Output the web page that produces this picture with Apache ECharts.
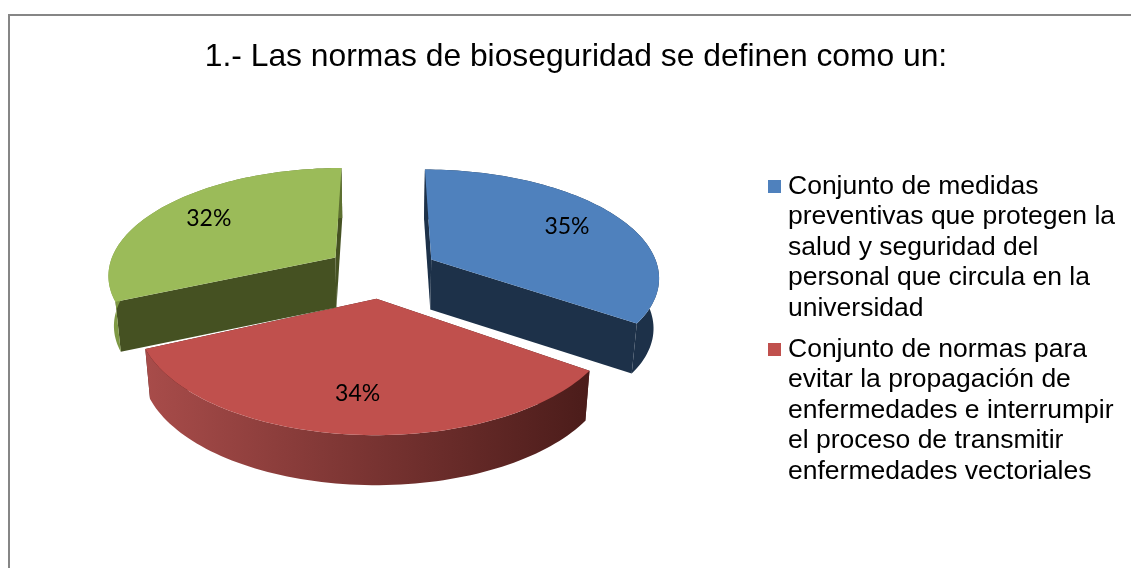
<!DOCTYPE html>
<html><head><meta charset="utf-8">
<style>html,body{margin:0;padding:0;background:#fff}#c{width:1131px;height:568px}</style>
<script src="https://cdn.jsdelivr.net/npm/echarts@6/dist/echarts.min.js"></script>
</head><body><div id="c"></div>
<script>
const titleText = '1.- Las normas de bioseguridad se definen como un:';
const sliceValues = [35, 34, 32];
const sliceLabels = ['35%', '34%', '32%'];
const legendLines = [
  ['Conjunto de medidas', 'preventivas que protegen la', 'salud y seguridad del', 'personal que circula en la', 'universidad'],
  ['Conjunto de normas para', 'evitar la propagación de', 'enfermedades e interrumpir', 'el proceso de transmitir', 'enfermedades vectoriales']
];
const sliceNames = [legendLines[0].join(' '), legendLines[1].join(' '), 'Otro'];
const topColors = ['#4f81bd', '#c0504d', '#9bbb59'];
const cutColors = ['#1d3149', '#4b1c1a', '#455122'];
const rimColors = [['#1d3149', '#1d3149'], ['#a84c4a', '#4b1c1a'], ['#7f9a45', '#5d7030']];

// projection of the tilted disc
const cx = 382, cy = 271.5, R = 228, B = 106.7, A = 0.15, EXPL = 0.248, DEPTH = 50, SHRINK = 0.98;
const LABEL_R = 0.73;
const total = sliceValues.reduce((a, b) => a + b, 0);

function project(U, V) {
  const k = 1 - A * V;
  return [cx + R * U / k, cy + B * V / k];
}
function below(p) { return [cx + (p[0] - cx) * SHRINK, p[1] + DEPTH]; }

function renderSlice(idx) {
  return function () {
    let before = 0;
    for (let i = 0; i < idx; i++) before += sliceValues[i];
    const a0 = before / total * 2 * Math.PI;
    const a1 = (before + sliceValues[idx]) / total * 2 * Math.PI;
    const mid = (a0 + a1) / 2;
    const ex = EXPL * Math.sin(mid), ey = -EXPL * Math.cos(mid);
    const pt = (a, r) => project(ex + r * Math.sin(a), ey - r * Math.cos(a));
    const apex = pt(0, 0);
    const arc = [];
    const N = 80;
    for (let i = 0; i <= N; i++) arc.push(pt(a0 + (a1 - a0) * i / N, 1));
    const top = [apex].concat(arc);
    const xs = arc.map(p => p[0]);
    const rimFill = {
      type: 'linear', global: true,
      x: Math.min.apply(null, xs), y: 0, x2: Math.max.apply(null, xs), y2: 0,
      colorStops: [{ offset: 0, color: rimColors[idx][0] }, { offset: 1, color: rimColors[idx][1] }]
    };
    const face = (p) => [apex, p, below(p), below(apex)];
    const rim = arc.concat(arc.slice().reverse().map(below));
    const lab = pt(mid, LABEL_R);
    return {
      type: 'group',
      children: [
        { type: 'polygon', shape: { points: face(arc[0]) }, style: { fill: cutColors[idx] } },
        { type: 'polygon', shape: { points: face(arc[N]) }, style: { fill: cutColors[idx] } },
        { type: 'polygon', shape: { points: rim }, style: { fill: rimFill } },
        { type: 'polygon', shape: { points: top }, style: { fill: topColors[idx] } },
        { type: 'text', x: lab[0], y: lab[1], style: {
            text: sliceLabels[idx], fill: '#000', font: '23px Lato, "Open Sans", sans-serif',
            align: 'center', verticalAlign: 'middle' } }
      ]
    };
  };
}

const series = sliceValues.map((v, i) => ({
  type: 'custom', name: sliceNames[i], coordinateSystem: 'none',
  data: [[v]], itemStyle: { color: topColors[i] }, renderItem: renderSlice(i),
  silent: true, animation: false
}));

const chart = echarts.init(document.getElementById('c'), null, { renderer: 'canvas' });
chart.setOption({
  animation: false,
  backgroundColor: '#fff',
  title: {
    text: titleText, left: 576, top: 36, textAlign: 'center',
    padding: [5, 10, 5, 0],
    textStyle: { fontFamily: '"Liberation Sans", Arial, sans-serif', fontSize: 31.8, fontWeight: 'normal', color: '#000' }
  },
  legend: {
    left: 768, top: 173, orient: 'vertical', selectedMode: false, itemGap: 14,
    itemWidth: 0, itemHeight: 0, icon: 'none', padding: 0,
    data: [sliceNames[0], sliceNames[1]],
    formatter: function (name) {
      const i = sliceNames.indexOf(name);
      return legendLines[i].map((l, n) => (n === 0 ? '{box' + i + '|}{gap|}' : '{ind|}') + '{t|' + l + '}').join('\n');
    },
    textStyle: {
      padding: [0, 0, 0, -5],
      rich: {
        t: { fontFamily: '"Liberation Sans", Arial, sans-serif', fontSize: 26.5, lineHeight: 30.5, color: '#000' },
        box0: { width: 13, height: 13, backgroundColor: topColors[0] },
        box1: { width: 13, height: 13, backgroundColor: topColors[1] },
        gap: { width: 7, height: 13 },
        ind: { width: 20, height: 13 }
      }
    }
  },
  graphic: [{
    type: 'rect', silent: true, z: -1,
    shape: { x: 9, y: 15, width: 1400, height: 800 },
    style: { fill: '#fff', stroke: '#868686', lineWidth: 2 }
  }],
  series
});
</script></body></html>
